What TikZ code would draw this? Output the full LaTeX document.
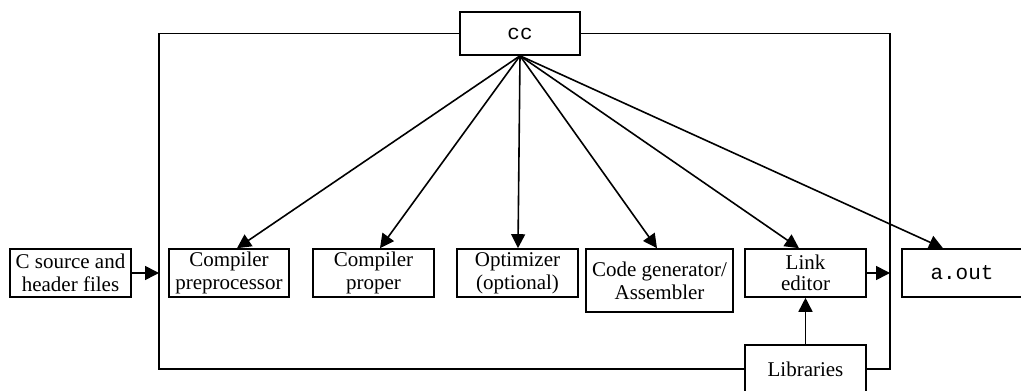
\documentclass[tikz,border=0pt]{standalone}
\usepackage{fontspec}
\setmainfont{Liberation Serif}
\setmonofont{Liberation Mono}
\usetikzlibrary{arrows.meta,calc}
\begin{document}
\begin{tikzpicture}[x=1pt,y=1pt,
  every node/.style={font=\fontsize{21}{23}\selectfont},
  box/.style={draw, line width=1.6pt, align=center, inner sep=0pt, minimum width=121pt, minimum height=48pt},
  ln/.style={line width=1.6pt},
  arr/.style={line width=1.6pt, -{Triangle[length=14pt,width=14pt]}}]
\useasboundingbox (0,0) rectangle (1021,391);
\node[box, minimum width=120pt, minimum height=43pt] (cc) at (520,357.5) {\ttfamily cc};
\node[box] (src) at (70.5,118) {C source and\\header files};
\node[box, minimum width=120pt] (pre) at (229,118) {Compiler\\preprocessor};
\node[box] (prop) at (373.5,118) {Compiler\\proper};
\node[box] (opt) at (517.5,118) {Optimizer\\(optional)};
\node[box, minimum width=147pt, minimum height=63pt] (cg) at (659.5,110.5) {Code generator/\\Assembler};
\node[box, font=\fontsize{21}{20.5}\selectfont] (link) at (805.5,118) {Link\\editor};
\node[box, minimum width=120pt] (aout) at (962,118) {\ttfamily a.out};
\node[box] (lib) at (805.5,22) {Libraries};
\coordinate (tl) at (159,357.5);
\coordinate (bl) at (159,22);
\coordinate (tr) at (890,357.5);
\coordinate (br) at (890,22);
\draw[ln] (cc.west) -- (tl) -- (bl) -- (lib.west);
\draw[ln] (cc.east) -- (tr) -- (br) -- (lib.east);
\draw[arr] (src.east) -- (src.east -| tl);
\draw[arr] (link.east) -- (link.east -| tr);
\draw[arr] (lib.north) -- (link.south);
\draw[arr] (cc.south) -- ($(pre.north)+(8,0)$);
\draw[arr] (cc.south) -- ($(prop.north)+(6.5,0)$);
\draw[arr] (cc.south) -- ($(opt.north)+(0.5,0)$);
\draw[arr] (cc.south) -- ($(cg.north)+(-2.5,0)$);
\draw[arr] (cc.south) -- ($(link.north)+(-6.5,0)$);
\draw[arr] (cc.south) -- ($(aout.north)+(-19,0)$);
\end{tikzpicture}
\end{document}
